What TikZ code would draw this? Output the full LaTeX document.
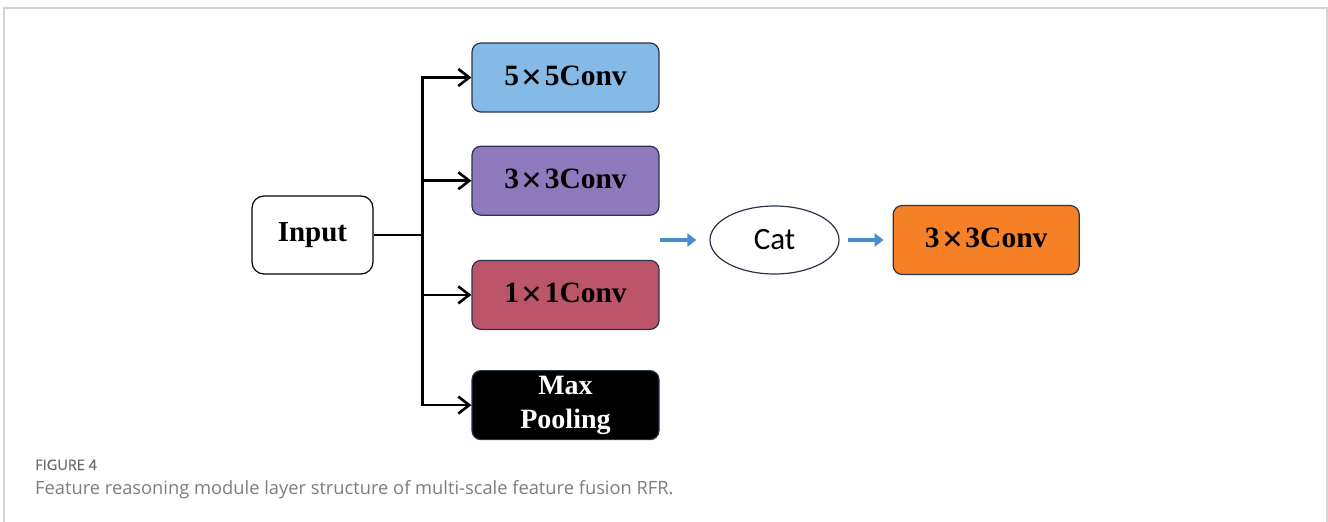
\documentclass[tikz,border=0pt]{standalone}
\usepackage{fontspec}
\usepackage{graphicx}
\setmainfont{Liberation Serif}
\newfontfamily\catfont{Carlito}
\newfontfamily\capfont{Open Sans}
\newfontfamily\capbold{Open Sans}[FakeBold=0.7]
\usetikzlibrary{shapes.geometric,arrows.meta,positioning}
\definecolor{convblue}{RGB}{133,185,230}
\definecolor{convpurple}{RGB}{143,121,189}
\definecolor{convred}{RGB}{189,85,106}
\definecolor{convorange}{RGB}{245,128,38}
\definecolor{catblue}{RGB}{74,140,207}
\definecolor{boxedge}{RGB}{40,52,75}
\definecolor{framegray}{RGB}{212,212,212}
\definecolor{capgray}{RGB}{125,125,125}
\newcommand{\mul}{\kern0.08em\raisebox{-0.13em}{\scalebox{1.25}{×}}\kern0.08em}
\tikzset{
	layerbox/.style={rectangle, draw=boxedge, line width=1.2pt, rounded corners=9pt,
		minimum width=187pt, minimum height=69pt, inner sep=0pt, align=center,
		font=\fontsize{29.5}{31}\selectfont\bfseries},
	splitarr/.style={-{Straight Barb[length=11pt,width=17pt]}, line width=2.6pt},
	catarr/.style={-{Triangle[length=9pt,width=13pt]}, line width=4.8pt, draw=catblue, fill=catblue}
}

\begin{document}
\begin{tikzpicture}[x=1pt, y=-1pt, node distance=33pt]
	\useasboundingbox (0,0) rectangle (1328,522);
	% figure frame, open at the bottom
	\draw[framegray, line width=1.5pt] (4,540) -- (4,8) -- (1327,8) -- (1327,540);

	\node[layerbox, draw=black, fill=white, rounded corners=12pt, minimum width=121pt,
		minimum height=78pt, font=\fontsize{29}{31}\selectfont\bfseries] (inp) at (312.5,235) {Input};
	\node[layerbox, fill=convblue] (c5) at (565.5,77.5) {5\mul5Conv};
	\node[layerbox, fill=convpurple, below=of c5] (c3) {3\mul3Conv};
	\node[layerbox, fill=convred, below=44pt of c3] (c1) {1\mul1Conv};
	\node[layerbox, fill=black, text=white, below=40pt of c1,
		font=\fontsize{28}{34}\selectfont\bfseries] (mp) {Max\\Pooling};
	\node[ellipse, draw=boxedge, line width=1.2pt, minimum width=129pt, minimum height=68pt,
		inner sep=0pt, font=\catfont\fontsize{31}{33}\selectfont] (cat) at (774.5,240) {Cat};
	\node[layerbox, fill=convorange, minimum width=186pt, right=53pt of cat] (out) {3\mul3Conv};

	% split from the input to the four branches
	\coordinate (split) at ([xshift=49pt]inp.east);
	\draw[line width=2.6pt] (inp.east) -- (split);
	\draw[line width=2.6pt, line cap=rect] (split |- c5) -- (split |- mp);
	\foreach \b in {c5,c3,c1,mp}
		\draw[splitarr] (split |- \b) -- (\b.west);

	% concat and fuse
	\coordinate (catin) at (660,240);
	\draw[catarr, shorten >=13pt] (catin) -- (cat.west);
	\draw[catarr, shorten <=8pt, shorten >=9pt] (cat) -- (out);

	% caption
	\node[anchor=base west, inner sep=0pt, text=capgray!85!black, font=\capbold\fontsize{14.5}{16}\selectfont] (fig) at (35,470) {FIGURE 4};
	\node[anchor=base west, inner sep=0pt, text=capgray, font=\capfont\fontsize{18.3}{20}\selectfont] (cap) at (35,494) {Feature reasoning module layer structure of multi-scale feature fusion RFR.};
\end{tikzpicture}
\end{document}
